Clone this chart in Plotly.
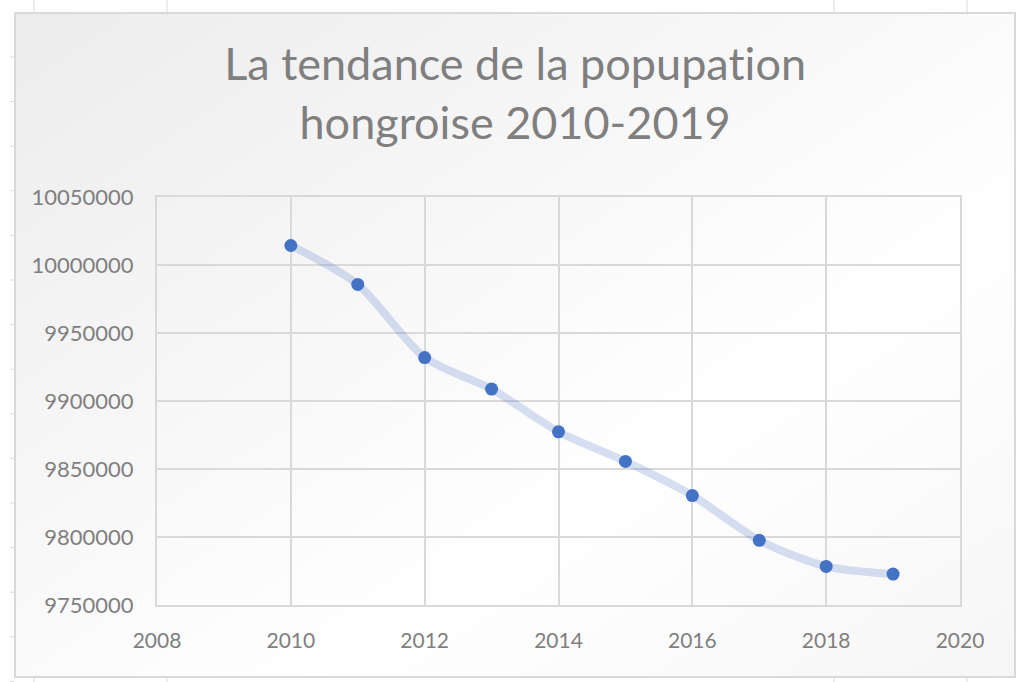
import plotly.graph_objects as go

# Population of Hungary, 1 January of each year
years = [2010, 2011, 2012, 2013, 2014, 2015, 2016, 2017, 2018, 2019]
population = [10014324, 9985722, 9931925, 9908798, 9877365,
              9855571, 9830485, 9797561, 9778371, 9772756]

# zero-width non-joiner keeps Lato from drawing the "ti" ligature
title_text = "La tendance de la popupat\u200cion<br>hongroise 2010-2019"

grey_text = "#7f7f7f"
grid = "#d9d9d9"

fig = go.Figure()

# smooth light line behind the markers
fig.add_trace(go.Scatter(
    x=years, y=population,
    mode="lines",
    line=dict(color="rgba(68,114,196,0.22)", width=8, shape="spline", smoothing=0.8),
    hoverinfo="skip",
    showlegend=False,
))
fig.add_trace(go.Scatter(
    x=years, y=population,
    mode="markers",
    marker=dict(color="#4472c4", size=13),
    showlegend=False,
))

# soft grey-to-white gradient of the excel chart area
svg = ("data:image/svg+xml;utf8,<svg xmlns='http://www.w3.org/2000/svg' width='1000' height='664'>"
       "<defs><linearGradient id='g' x1='0' y1='0' x2='1' y2='1'>"
       "<stop offset='0' stop-color='%23ececec'/><stop offset='0.65' stop-color='%23ffffff'/>"
       "<stop offset='1' stop-color='%23f6f6f6'/></linearGradient></defs>"
       "<rect width='1000' height='664' fill='url(%23g)'/></svg>")
fig.add_layout_image(dict(source=svg, xref="paper", yref="paper",
                          x=(15 - 157) / 803, y=(605 - 13) / 408,
                          sizex=1000 / 803, sizey=664 / 408,
                          xanchor="left", yanchor="top", sizing="stretch",
                          layer="below"))

# chart frame and spreadsheet cell fragments around it
shapes = [dict(type="rect", xref="paper", yref="paper",
               x0=(15 - 157) / 803, x1=(1015 - 157) / 803,
               y0=-(677 - 605) / 408, y1=(605 - 13) / 408,
               line=dict(color="#d9d9d9", width=2))]
for px in [34, 167, 834, 967]:
    for y0, y1 in [(0, 12), (678, 682)]:
        shapes.append(dict(type="line", xref="paper", yref="paper",
                           x0=(px - 157) / 803, x1=(px - 157) / 803,
                           y0=(605 - y0) / 408, y1=(605 - y1) / 408,
                           line=dict(color="#d9d9d9", width=1)))
py = 57
while py < 682:
    shapes.append(dict(type="line", xref="paper", yref="paper",
                       x0=(10 - 157) / 803, x1=(14 - 157) / 803,
                       y0=(605 - py) / 408, y1=(605 - py) / 408,
                       line=dict(color="#d9d9d9", width=1)))
    py += 44.6

fig.update_layout(
    width=1016, height=682,
    margin=dict(l=157, r=56, t=197, b=77),
    paper_bgcolor="white",
    plot_bgcolor="rgba(255,255,255,0.45)",
    font=dict(family="Lato", color=grey_text, size=21),
    title=dict(text=title_text, x=0.507, xanchor="center",
               y=1 - 80 / 682, yanchor="top",
               font=dict(family="Lato", size=45, color=grey_text)),
    shapes=shapes,
    xaxis=dict(range=[2008, 2020], dtick=2, tick0=2008,
               showgrid=True, gridcolor=grid, gridwidth=2,
               showline=True, linecolor=grid, linewidth=2, mirror=True,
               zeroline=False, ticks="", ticklabelstandoff=16,
               tickfont=dict(size=21, color=grey_text)),
    yaxis=dict(range=[9750000, 10050000], dtick=50000, tick0=9750000,
               showgrid=True, gridcolor=grid, gridwidth=2,
               showline=True, linecolor=grid, linewidth=2, mirror=True,
               zeroline=False, ticks="", ticklabelstandoff=17,
               tickformat="d",
               tickfont=dict(size=22, color=grey_text)),
)

fig.write_html("out.html", config={"displayModeBar": False},
               post_script="document.body.style.margin='0';")
